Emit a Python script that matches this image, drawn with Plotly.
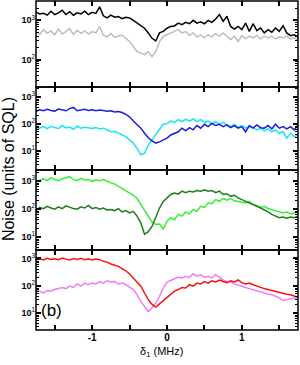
import math
import plotly.graph_objects as go

detuning = [round(-1.75 + 0.05 * i, 2) for i in range(71)]

black = [1600,1450,1500,1350,1700,1400,1550,1800,1400,1650,1350,1550,1450,1700,1400,1600,1500,2200,
         1300,1150,1350,1200,1250,1100,1200,
         1150,1000,850,730,630,480,350,300,480,525,630,700,720,850,780,890,820,1000,850,920,820,1000,890,
         1080,1400,940,1270,700,600,700,580,850,525,820,550,640,480,580,500,640,525,730,480,410,430,380]
gray = [520,440,580,470,540,430,600,450,520,620,440,560,470,540,450,520,480,700,
        420,380,460,370,400,420,350,
        290,220,160,150,135,160,120,160,290,390,430,480,520,580,480,520,410,480,380,430,360,430,380,460,
        400,480,400,325,400,290,410,340,400,360,410,340,400,360,400,340,380,360,400,340,360,325]
blue = [280,330,300,340,310,290,350,320,300,360,400,300,320,340,310,330,300,320,310,290,300,270,280,
        260,220,180,125,95,68,44,30,23,19,21,25,29,38,44,50,68,54,71,59,85,68,95,78,103,85,95,78,90,71,
        85,68,78,50,85,68,90,71,68,85,64,95,68,78,64,78,59,90]
cyan = [60,70,78,65,80,72,66,85,70,75,62,80,68,74,70,66,72,64,68,60,
        50,52,44,40,33,25,19,12,7,8,16,25,38,59,95,100,125,112,140,118,145,125,150,118,140,112,125,100,
        118,95,112,90,78,95,71,85,68,78,71,59,68,54,64,50,59,44,50,29,44,33,38]
lime = [900,1050,1150,1000,1250,1100,1000,1150,1300,1400,1100,1000,1200,1050,1100,950,1050,1000,1100,950,
        830,760,630,520,420,360,300,230,140,92,54,33,27,28,19,35,47,40,62,54,76,65,92,80,120,110,160,150,
        210,180,230,200,230,190,180,175,160,180,140,130,110,120,100,92,85,80,70,75,65,70,80]
darkgreen = [85,110,100,120,105,95,115,100,125,110,100,95,115,105,130,100,110,95,105,90,
             92,85,100,76,85,70,80,54,31,12,15,23,47,105,180,240,320,360,330,420,370,420,390,440,420,470,
             420,440,370,420,320,340,275,300,240,210,180,160,140,120,105,92,76,62,54,47,50,45,50,47,54]
red = [900,950,880,1000,920,960,900,1020,940,880,980,920,1000,900,960,880,940,900,
       780,730,620,560,510,420,350,265,190,140,94,53,30,20,16,21,28,35,46,62,71,85,81,107,95,123,115,140,
       123,150,135,160,140,128,150,135,160,128,115,123,107,95,85,77,71,65,62,58,53,48,46,40,37]
pink = [71,62,53,65,62,71,77,85,77,95,85,115,95,123,107,123,115,140,123,150,135,140,115,123,107,85,71,46,
        26,17,11,15,23,40,81,135,160,178,200,190,220,200,270,220,250,200,220,190,250,200,160,140,135,115,
        102,95,85,77,71,65,58,53,48,46,40,35,28,30,33,35,37]

x_tickvals = [-1.5, -1, -0.5, 0, 0.5, 1, 1.5]
x_ticktext = ["", "<b>-1</b>", "", "<b>0</b>", "", "<b>1</b>", ""]
y_tickvals = [10, 100, 1000]
y_ticktext = ["<b>10</b><sup>1</sup>", "<b>10</b><sup>2</sup>", "<b>10</b><sup>3</sup>"]

panels = [
    [(gray, "#bdbdbd"), (black, "#000000")],
    [(cyan, "#14e6f5"), (blue, "#1c1cdc")],
    [(lime, "#33f033"), (darkgreen, "#1c7d1c")],
    [(pink, "#f47af4"), (red, "#f01414")],
]
y_ranges = [[1.31, 3.49], [0.28, 3.36], [0.52, 3.38], [0.36, 3.31]]
domains = [[0.7386, 1.0], [0.4863, 0.7386], [0.2432, 0.4863], [0.0, 0.2432]]

fig = go.Figure()
layout = {}
for k, series in enumerate(panels):
    n = "" if k == 0 else str(k + 1)
    for vals, col in series:
        fig.add_trace(go.Scatter(x=detuning, y=vals, mode="lines", xaxis="x" + n, yaxis="y" + n,
                                 line=dict(color=col, width=1.5), showlegend=False))
    lo, hi = y_ranges[k]
    minor_vals = [m * 10 ** e for e in range(0, 4) for m in range(2, 10)
                  if lo < e + math.log10(m) < hi]
    layout["xaxis" + n] = dict(
        domain=[0, 1], anchor="y" + n, range=[-1.75, 1.75], tickmode="array",
        tickvals=x_tickvals, ticktext=x_ticktext, ticks="inside", ticklen=5, tickwidth=1.5,
        tickcolor="black", showline=False, mirror="ticks",
        showgrid=False, zeroline=False, showticklabels=(k == 3), automargin=False,
        tickfont=dict(size=10, color="black"))
    layout["yaxis" + n] = dict(
        domain=domains[k], anchor="x" + n, type="log", range=[lo, hi],
        tickmode="array", tickvals=y_tickvals, ticktext=y_ticktext,
        ticks="inside", ticklen=5, tickwidth=1.5, tickcolor="black",
        showline=False, mirror="ticks",
        showgrid=False, zeroline=False, automargin=False,
        minor=dict(tickmode="array", tickvals=minor_vals, ticks="inside", ticklen=3,
                   tickwidth=1, tickcolor="black", showgrid=False),
        tickfont=dict(size=9, color="black"))
    fig.add_shape(type="rect", xref="x" + n + " domain", yref="y" + n + " domain",
                  x0=0, x1=1, y0=0, y1=1, line=dict(color="black", width=1.5),
                  fillcolor="rgba(0,0,0,0)", layer="above")

fig.update_layout(**layout)
fig.add_annotation(text="Noise (units of SQL)", xref="paper", yref="paper",
                   x=-0.107, y=0.489, xanchor="center", yanchor="middle", textangle=-90,
                   showarrow=False, font=dict(size=16, color="black"))
fig.add_annotation(text="δ<sub>1</sub> (MHz)", xref="paper", yref="paper",
                   x=0.48, y=-0.067, xanchor="center", yanchor="middle",
                   showarrow=False, font=dict(size=11, color="black"))
fig.add_annotation(text="(b)", xref="x4 domain", yref="y4 domain",
                   x=0.06, y=0.24, xanchor="center", yanchor="middle",
                   showarrow=False, font=dict(size=17, color="black"))

fig.update_layout(width=300, height=365, margin=dict(l=36, r=2, t=1, b=35),
                  plot_bgcolor="white", paper_bgcolor="white",
                  font=dict(family="Liberation Sans, Arial, sans-serif", color="black"))
fig.write_html("out.html", config={"displayModeBar": False},
               post_script="document.body.style.margin='0';document.body.style.overflow='hidden';")
